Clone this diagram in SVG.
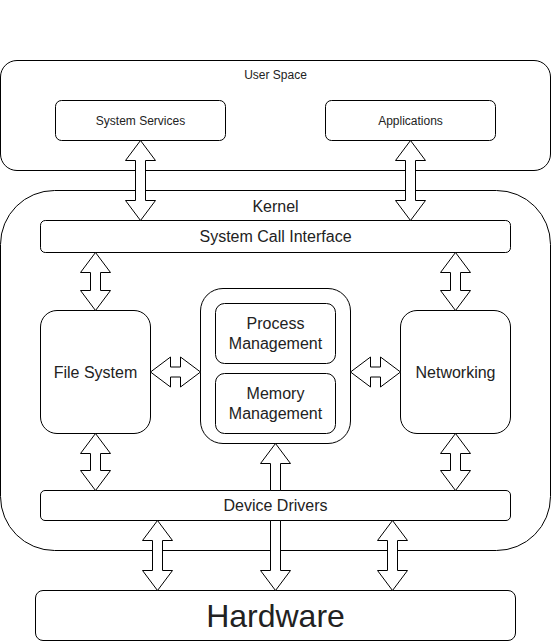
<svg xmlns="http://www.w3.org/2000/svg" width="551" height="641" viewBox="0 0 551 641">
<style>
.box{fill:#ffffff;stroke:#000000;stroke-width:1}
.arr{fill:#ffffff;stroke:#000000;stroke-width:1;stroke-linejoin:miter}
text{font-family:"Liberation Sans",Arial,Helvetica,sans-serif;fill:#222222;text-anchor:middle;dominant-baseline:central}
.s12{font-size:12px}
.s16{font-size:16px}
.s32{font-size:32px}
</style>
<rect width="551" height="641" fill="#ffffff"/>
<g id="user-space">
<rect class="box" x="0.5" y="60.5" width="550" height="110" rx="16.5" ry="16.5"/>
<text class="s12" x="275.5" y="75">User Space</text>
</g>
<g id="system-services">
<rect class="box" x="55.5" y="100.5" width="170" height="40" rx="6" ry="6"/>
<text class="s12" x="140.5" y="120.5">System Services</text>
</g>
<g id="applications">
<rect class="box" x="325.5" y="100.5" width="170" height="40" rx="6" ry="6"/>
<text class="s12" x="410.5" y="120.5">Applications</text>
</g>
<g id="kernel">
<rect class="box" x="0.5" y="190.5" width="550" height="360" rx="54" ry="54"/>
<text class="s16" x="275.5" y="206">Kernel</text>
</g>
<g id="system-call-interface">
<rect class="box" x="40.5" y="220.5" width="470" height="32" rx="4.8" ry="4.8"/>
<text class="s16" x="275.5" y="236.5">System Call Interface</text>
</g>
<g id="file-system">
<rect class="box" x="40.5" y="310.5" width="110" height="123" rx="16.5" ry="16.5"/>
<text class="s16" x="95.5" y="372">File System</text>
</g>
<g id="core">
<rect class="box" x="200.5" y="288.5" width="150" height="155" rx="22.5" ry="22.5"/>
</g>
<g id="process-management">
<rect class="box" x="215.5" y="303.5" width="120" height="60" rx="9" ry="9"/>
<text class="s16" x="275.5" y="323.9">Process</text>
<text class="s16" x="275.5" y="343.1">Management</text>
</g>
<g id="memory-management">
<rect class="box" x="215.5" y="373.5" width="120" height="60" rx="9" ry="9"/>
<text class="s16" x="275.5" y="393.9">Memory</text>
<text class="s16" x="275.5" y="413.1">Management</text>
</g>
<g id="networking">
<rect class="box" x="400.5" y="310.5" width="110" height="123" rx="16.5" ry="16.5"/>
<text class="s16" x="455.5" y="372">Networking</text>
</g>
<g id="device-drivers">
<rect class="box" x="40.5" y="490.5" width="470" height="30" rx="4.5" ry="4.5"/>
<text class="s16" x="275.5" y="505.5">Device Drivers</text>
</g>
<g id="hardware">
<rect class="box" x="35.5" y="590.5" width="480" height="50" rx="7.5" ry="7.5"/>
<text class="s32" x="275.5" y="615.5">Hardware</text>
</g>
<g id="connectors">
<!-- System Services <-> Kernel -->
<path class="arr" d="M140.5,140.5 L155.5,160.5 L145.5,160.5 L145.5,200.5 L155.5,200.5 L140.5,220.5 L125.5,200.5 L135.5,200.5 L135.5,160.5 L125.5,160.5 Z"/>
<!-- Applications <-> Kernel -->
<path class="arr" d="M410.5,140.5 L425.5,160.5 L415.5,160.5 L415.5,200.5 L425.5,200.5 L410.5,220.5 L395.5,200.5 L405.5,200.5 L405.5,160.5 L395.5,160.5 Z"/>
<!-- SCI <-> File System -->
<path class="arr" d="M95.5,252.5 L110.5,272.5 L100.5,272.5 L100.5,290.5 L110.5,290.5 L95.5,310.5 L80.5,290.5 L90.5,290.5 L90.5,272.5 L80.5,272.5 Z"/>
<!-- SCI <-> Networking -->
<path class="arr" d="M455.5,252.5 L470.5,272.5 L460.5,272.5 L460.5,290.5 L470.5,290.5 L455.5,310.5 L440.5,290.5 L450.5,290.5 L450.5,272.5 L440.5,272.5 Z"/>
<!-- File System <-> Device Drivers -->
<path class="arr" d="M95.5,433.5 L110.5,453.5 L100.5,453.5 L100.5,470.5 L110.5,470.5 L95.5,490.5 L80.5,470.5 L90.5,470.5 L90.5,453.5 L80.5,453.5 Z"/>
<!-- Networking <-> Device Drivers -->
<path class="arr" d="M455.5,433.5 L470.5,453.5 L460.5,453.5 L460.5,470.5 L470.5,470.5 L455.5,490.5 L440.5,470.5 L450.5,470.5 L450.5,453.5 L440.5,453.5 Z"/>
<!-- File System <-> Core -->
<path class="arr" d="M150.5,372 L170.5,357 L170.5,367 L180.5,367 L180.5,357 L200.5,372 L180.5,387 L180.5,377 L170.5,377 L170.5,387 Z"/>
<!-- Core <-> Networking -->
<path class="arr" d="M350.5,372 L370.5,357 L370.5,367 L380.5,367 L380.5,357 L400.5,372 L380.5,387 L380.5,377 L370.5,377 L370.5,387 Z"/>
<!-- Device Drivers -> Core -->
<path class="arr" d="M275.5,443.5 L290.5,463.5 L280.5,463.5 L280.5,490.5 L270.5,490.5 L270.5,463.5 L260.5,463.5 Z"/>
<!-- Device Drivers -> Hardware -->
<path class="arr" d="M270.5,520.5 L280.5,520.5 L280.5,570.5 L290.5,570.5 L275.5,590.5 L260.5,570.5 L270.5,570.5 Z"/>
<!-- Device Drivers <-> Hardware (left) -->
<path class="arr" d="M157.5,520.5 L172.5,540.5 L162.5,540.5 L162.5,570.5 L172.5,570.5 L157.5,590.5 L142.5,570.5 L152.5,570.5 L152.5,540.5 L142.5,540.5 Z"/>
<!-- Device Drivers <-> Hardware (right) -->
<path class="arr" d="M392.5,520.5 L407.5,540.5 L397.5,540.5 L397.5,570.5 L407.5,570.5 L392.5,590.5 L377.5,570.5 L387.5,570.5 L387.5,540.5 L377.5,540.5 Z"/>
</g>
</svg>
